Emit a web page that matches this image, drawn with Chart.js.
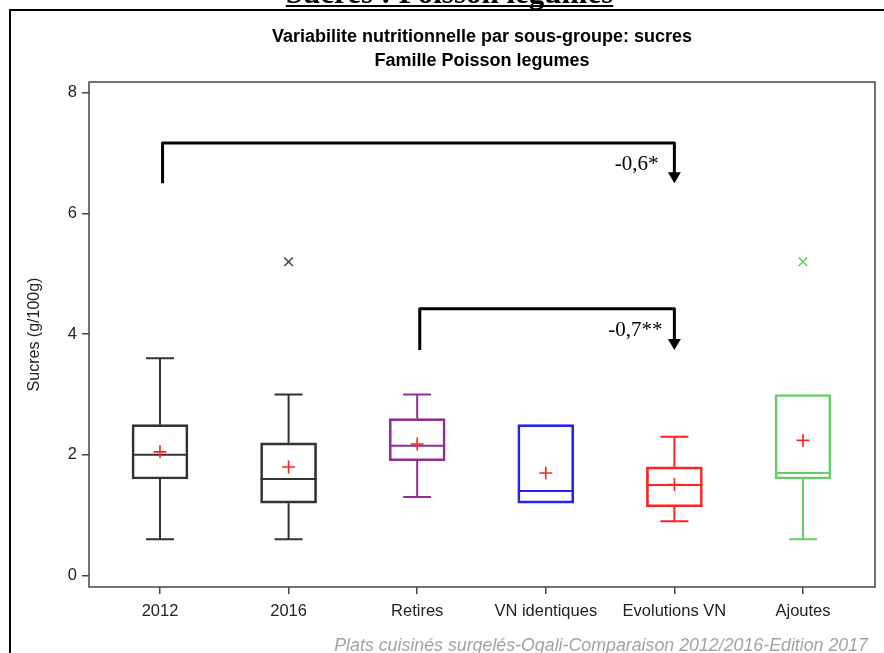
<!DOCTYPE html>
<html><head><meta charset="utf-8">
<script src="https://cdn.jsdelivr.net/npm/chart.js@4"></script>
<style>
html,body{margin:0;padding:0;background:#fff;}
#wrap{position:relative;width:884px;height:653px;overflow:hidden;background:#fff;}
canvas{position:absolute;left:0;top:0;}
.frame{position:absolute;left:9px;top:9px;width:880px;height:650px;border-left:2px solid #000;border-top:2px solid #000;}
.heading{position:absolute;left:0;width:899px;top:-23px;text-align:center;font-family:'Liberation Serif',serif;font-weight:bold;font-size:31px;line-height:31px;text-decoration:underline;text-decoration-thickness:2px;text-underline-offset:2px;text-decoration-skip-ink:none;white-space:nowrap;color:#000;}
.t{position:absolute;left:182px;width:600px;text-align:center;font-family:'Liberation Sans',Arial,sans-serif;font-weight:bold;font-size:18px;line-height:24px;color:#000;white-space:nowrap;}
.foot{position:absolute;right:16px;top:633px;font-family:'Liberation Sans',Arial,sans-serif;font-style:italic;font-size:17.8px;line-height:24px;color:#a3a3a3;white-space:nowrap;}
</style></head>
<body>
<div id="wrap">
<canvas id="c" width="884" height="653"></canvas>
<div class="heading">Sucres : Poisson legumes</div>
<div class="frame"></div>
<div class="t" style="top:24px">Variabilite nutritionnelle par sous-groupe: sucres</div>
<div class="t" style="top:48px">Famille Poisson legumes</div>
<div class="foot">Plats cuisinés surgelés-Ogali-Comparaison 2012/2016-Edition 2017</div>
</div>
<script>
const categories = ['2012','2016','Retires','VN identiques','Evolutions VN','Ajoutes'];
const whiskerMin = [0.6, 0.6, 1.3, 1.2, 0.9, 0.6];
const q1 = [1.6, 1.2, 1.9, 1.2, 1.14, 1.6];
const median = [2.0, 1.6, 2.15, 1.4, 1.5, 1.7];
const q3 = [2.5, 2.2, 2.6, 2.5, 1.8, 3.0];
const whiskerMax = [3.6, 3.0, 3.0, 2.5, 2.3, 3.0];
const mean = [2.05, 1.8, 2.18, 1.7, 1.51, 2.24];
const outlierCat = [1, 5];
const outlierVal = [5.2, 5.2];
const yTicks = [0, 2, 4, 6, 8];
const bracketFrom = [0.02, 2.02];
const bracketTo = [4, 4];
const bracketBase = [6.5, 3.74];
const bracketTop = [7.17, 4.42];
const bracketLabels = ['-0,6*', '-0,7**'];

const boxColors = ['#333333','#333333','#8e2f91','#2424f0','#ff2424','#66cc66'];
const outlierColors = ['#444444','#66cc66'];
const meanColor = '#ff2424';
const frameColor = '#444444';

const boxPlugin = {
  id: 'boxparts',
  beforeDatasetsDraw(chart) {
    const {ctx, scales: {x, y}} = chart;
    ctx.save();
    ctx.lineWidth = 2;
    categories.forEach((c, i) => {
      const cx = x.getPixelForValue(i);
      ctx.strokeStyle = boxColors[i];
      const pQ1 = y.getPixelForValue(q1[i]);
      const pQ3 = y.getPixelForValue(q3[i]);
      const pMin = y.getPixelForValue(whiskerMin[i]);
      const pMax = y.getPixelForValue(whiskerMax[i]);
      const pMed = y.getPixelForValue(median[i]);
      ctx.beginPath();
      if (whiskerMax[i] > q3[i]) {
        ctx.moveTo(cx, pQ3); ctx.lineTo(cx, pMax);
        ctx.moveTo(cx - 14, pMax); ctx.lineTo(cx + 14, pMax);
      }
      if (whiskerMin[i] < q1[i]) {
        ctx.moveTo(cx, pQ1); ctx.lineTo(cx, pMin);
        ctx.moveTo(cx - 14, pMin); ctx.lineTo(cx + 14, pMin);
      }
      ctx.moveTo(cx - 28, pMed); ctx.lineTo(cx + 28, pMed);
      ctx.stroke();
    });
    ctx.restore();
  },
  afterDraw(chart) {
    const {ctx, chartArea: a, scales: {x, y}} = chart;
    ctx.save();
    ctx.strokeStyle = frameColor;
    ctx.lineWidth = 1.5;
    ctx.strokeRect(a.left, a.top, a.right - a.left, a.bottom - a.top);
    bracketFrom.forEach((f, i) => {
      const x0 = x.getPixelForValue(f);
      const x1 = x.getPixelForValue(bracketTo[i]);
      const yb = y.getPixelForValue(bracketBase[i]);
      const yt = y.getPixelForValue(bracketTop[i]);
      ctx.strokeStyle = '#000';
      ctx.fillStyle = '#000';
      ctx.lineWidth = 3;
      ctx.lineJoin = 'round';
      ctx.beginPath();
      ctx.moveTo(x0, yb);
      ctx.lineTo(x0, yt);
      ctx.lineTo(x1, yt);
      ctx.lineTo(x1, yb - 10);
      ctx.stroke();
      ctx.beginPath();
      ctx.moveTo(x1 - 6.5, yb - 11);
      ctx.lineTo(x1 + 6.5, yb - 11);
      ctx.lineTo(x1, yb);
      ctx.closePath();
      ctx.fill();
      ctx.font = '21px "Liberation Serif", serif';
      ctx.textAlign = 'right';
      ctx.textBaseline = 'middle';
      ctx.fillText(bracketLabels[i], x1 - 16 + i * 4, yt + 22);
    });
    ctx.restore();
  }
};

const tickFont = {family: "'Liberation Sans', Arial, sans-serif", size: 16.5};

new Chart(document.getElementById('c'), {
  type: 'bar',
  data: {
    datasets: [
      {
        type: 'bar',
        data: categories.map((c, i) => ({x: i, y: [q1[i], q3[i]]})),
        backgroundColor: 'rgba(0,0,0,0)',
        borderColor: boxColors,
        borderWidth: 2,
        borderSkipped: false,
        barThickness: 56,
        order: 3
      },
      {
        type: 'scatter',
        data: mean.map((m, i) => ({x: i, y: m})),
        pointStyle: 'cross',
        radius: 6.5,
        borderColor: meanColor,
        backgroundColor: meanColor,
        borderWidth: 1.6,
        order: 1
      },
      {
        type: 'scatter',
        data: outlierCat.map((c, i) => ({x: c, y: outlierVal[i]})),
        pointStyle: 'crossRot',
        radius: 6,
        borderColor: outlierColors,
        backgroundColor: outlierColors,
        borderWidth: 1.6,
        order: 2
      }
    ]
  },
  options: {
    responsive: false,
    animation: false,
    layout: {padding: {left: 0, right: 9, top: 82, bottom: 26}},
    plugins: {legend: {display: false}, tooltip: {enabled: false}, title: {display: false}},
    scales: {
      x: {
        type: 'linear',
        offset: false,
        min: -0.552,
        max: 5.56,
        afterBuildTicks: (axis) => { axis.ticks = categories.map((c, i) => ({value: i})); },
        afterFit: (s) => { s.height = 40; },
        ticks: {callback: (v) => categories[v] ?? '', font: tickFont, color: '#222', padding: 8, maxRotation: 0, autoSkip: false},
        grid: {offset: false, drawOnChartArea: false, drawTicks: true, tickLength: 7, color: frameColor, lineWidth: 1.5},
        border: {display: false}
      },
      y: {
        type: 'linear',
        min: -0.19,
        max: 8.18,
        afterBuildTicks: (axis) => { axis.ticks = yTicks.map(v => ({value: v})); },
        afterFit: (s) => { s.width = 89; },
        ticks: {font: tickFont, color: '#222', padding: 5},
        grid: {drawOnChartArea: false, drawTicks: true, tickLength: 7, color: frameColor, lineWidth: 1.5},
        border: {display: false},
        title: {display: true, text: 'Sucres (g/100g)', font: {family: "'Liberation Sans', Arial, sans-serif", size: 16}, color: '#222', padding: {top: 25, bottom: 0}}
      }
    }
  },
  plugins: [boxPlugin]
});
</script>
</body></html>
